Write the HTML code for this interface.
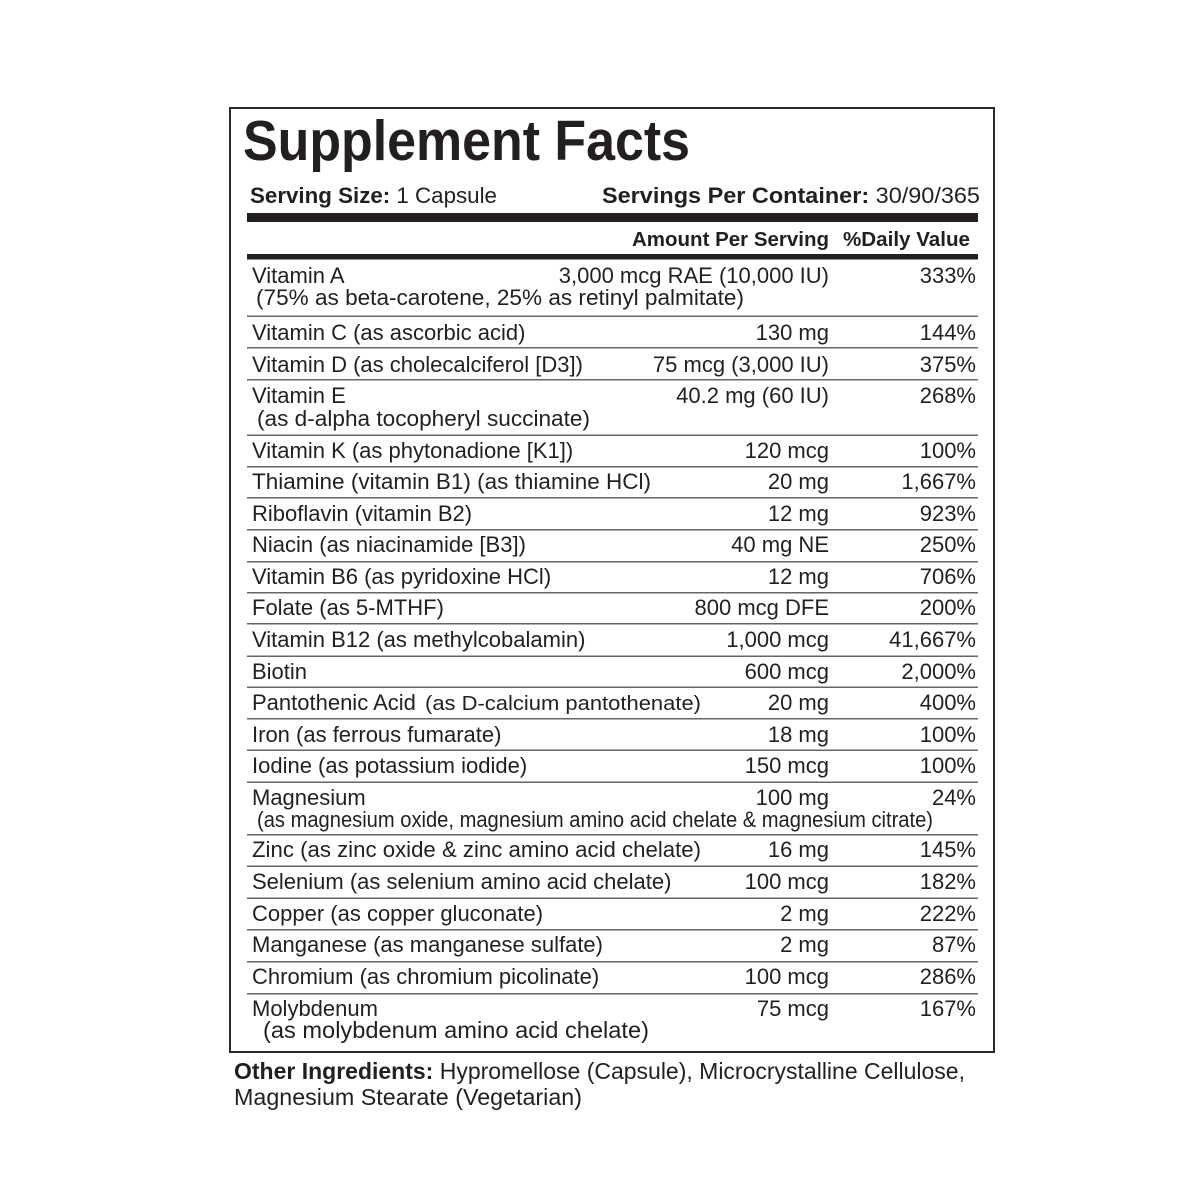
<!DOCTYPE html>
<html>
<head>
<meta charset="utf-8">
<style>
html,body{margin:0;padding:0;background:#fff;}
svg{display:block;}
text{font-family:"Liberation Sans",Arial,sans-serif;fill:#231f20;}
</style>
</head>
<body>
<svg width="1200" height="1200" viewBox="0 0 1200 1200" xmlns="http://www.w3.org/2000/svg">
<rect x="0" y="0" width="1200" height="1200" fill="#fff"/>
<!-- box -->
<rect x="230" y="108" width="764" height="944" fill="none" stroke="#2b2b2b" stroke-width="2"/>

<!-- title -->
<text x="243" y="160" font-size="57" font-weight="bold" textLength="447" lengthAdjust="spacingAndGlyphs">Supplement Facts</text>

<!-- serving -->
<text x="250" y="203" font-size="22.5" textLength="247" lengthAdjust="spacingAndGlyphs"><tspan font-weight="bold">Serving Size:</tspan> 1 Capsule</text>
<text x="602" y="203" font-size="22.5" textLength="378" lengthAdjust="spacingAndGlyphs"><tspan font-weight="bold">Servings Per Container:</tspan> 30/90/365</text>

<!-- thick bars -->
<rect x="247" y="213" width="731" height="9" fill="#231f20"/>
<rect x="247" y="254" width="731" height="5.5" fill="#231f20"/>

<text x="632" y="246" font-size="20" font-weight="bold" textLength="197" lengthAdjust="spacingAndGlyphs">Amount Per Serving</text>
<text x="843" y="246" font-size="20" font-weight="bold" textLength="127" lengthAdjust="spacingAndGlyphs">%Daily Value</text>

<!-- separators -->
<g fill="#666">
<rect x="247" y="315.5" width="731" height="1.5"/>
<rect x="247" y="347" width="731" height="1.5"/>
<rect x="247" y="379" width="731" height="1.5"/>
<rect x="247" y="434.5" width="731" height="1.5"/>
<rect x="247" y="466" width="731" height="1.5"/>
<rect x="247" y="497" width="731" height="1.5"/>
<rect x="247" y="529" width="731" height="1.5"/>
<rect x="247" y="561" width="731" height="1.5"/>
<rect x="247" y="592" width="731" height="1.5"/>
<rect x="247" y="623" width="731" height="1.5"/>
<rect x="247" y="655.5" width="731" height="1.5"/>
<rect x="247" y="686.5" width="731" height="1.5"/>
<rect x="247" y="718" width="731" height="1.5"/>
<rect x="247" y="749.5" width="731" height="1.5"/>
<rect x="247" y="781.5" width="731" height="1.5"/>
<rect x="247" y="834" width="731" height="1.5"/>
<rect x="247" y="865.5" width="731" height="1.5"/>
<rect x="247" y="897.5" width="731" height="1.5"/>
<rect x="247" y="929" width="731" height="1.5"/>
<rect x="247" y="961" width="731" height="1.5"/>
<rect x="247" y="993" width="731" height="1.5"/>
</g>

<g font-size="22">
<!-- labels -->
<text x="252" y="283">Vitamin A</text>
<text x="256" y="305" textLength="488" lengthAdjust="spacingAndGlyphs">(75% as beta-carotene, 25% as retinyl palmitate)</text>
<text x="252" y="340">Vitamin C (as ascorbic acid)</text>
<text x="252" y="372">Vitamin D (as cholecalciferol [D3])</text>
<text x="252" y="403">Vitamin E</text>
<text x="257" y="426" textLength="333" lengthAdjust="spacingAndGlyphs">(as d-alpha tocopheryl succinate)</text>
<text x="252" y="458">Vitamin K (as phytonadione [K1])</text>
<text x="252" y="489" textLength="399" lengthAdjust="spacingAndGlyphs">Thiamine (vitamin B1) (as thiamine HCl)</text>
<text x="252" y="521">Riboflavin (vitamin B2)</text>
<text x="252" y="552">Niacin (as niacinamide [B3])</text>
<text x="252" y="584">Vitamin B6 (as pyridoxine HCl)</text>
<text x="252" y="615">Folate (as 5-MTHF)</text>
<text x="252" y="647">Vitamin B12 (as methylcobalamin)</text>
<text x="252" y="679">Biotin</text>
<text x="252" y="710">Pantothenic Acid</text>
<text x="425" y="710" font-size="20" textLength="276" lengthAdjust="spacingAndGlyphs">(as D-calcium pantothenate)</text>
<text x="252" y="742">Iron (as ferrous fumarate)</text>
<text x="252" y="773">Iodine (as potassium iodide)</text>
<text x="252" y="805">Magnesium</text>
<text x="257" y="827" textLength="676" lengthAdjust="spacingAndGlyphs">(as magnesium oxide, magnesium amino acid chelate &amp; magnesium citrate)</text>
<text x="252" y="857" textLength="449" lengthAdjust="spacingAndGlyphs">Zinc (as zinc oxide &amp; zinc amino acid chelate)</text>
<text x="252" y="889">Selenium (as selenium amino acid chelate)</text>
<text x="252" y="921">Copper (as copper gluconate)</text>
<text x="252" y="952">Manganese (as manganese sulfate)</text>
<text x="252" y="984">Chromium (as chromium picolinate)</text>
<text x="252" y="1016">Molybdenum</text>
<text x="263" y="1038" font-size="23" textLength="386" lengthAdjust="spacingAndGlyphs">(as molybdenum amino acid chelate)</text>
</g>

<g font-size="22" text-anchor="end">
<!-- amounts -->
<text x="829" y="283">3,000 mcg RAE (10,000 IU)</text>
<text x="829" y="340">130 mg</text>
<text x="829" y="372">75 mcg (3,000 IU)</text>
<text x="829" y="403">40.2 mg (60 IU)</text>
<text x="829" y="458">120 mcg</text>
<text x="829" y="489">20 mg</text>
<text x="829" y="521">12 mg</text>
<text x="829" y="552">40 mg NE</text>
<text x="829" y="584">12 mg</text>
<text x="829" y="615">800 mcg DFE</text>
<text x="829" y="647">1,000 mcg</text>
<text x="829" y="679">600 mcg</text>
<text x="829" y="710">20 mg</text>
<text x="829" y="742">18 mg</text>
<text x="829" y="773">150 mcg</text>
<text x="829" y="805">100 mg</text>
<text x="829" y="857">16 mg</text>
<text x="829" y="889">100 mcg</text>
<text x="829" y="921">2 mg</text>
<text x="829" y="952">2 mg</text>
<text x="829" y="984">100 mcg</text>
<text x="829" y="1016">75 mcg</text>
<!-- DV -->
<text x="976" y="283">333%</text>
<text x="976" y="340">144%</text>
<text x="976" y="372">375%</text>
<text x="976" y="403">268%</text>
<text x="976" y="458">100%</text>
<text x="976" y="489">1,667%</text>
<text x="976" y="521">923%</text>
<text x="976" y="552">250%</text>
<text x="976" y="584">706%</text>
<text x="976" y="615">200%</text>
<text x="976" y="647">41,667%</text>
<text x="976" y="679">2,000%</text>
<text x="976" y="710">400%</text>
<text x="976" y="742">100%</text>
<text x="976" y="773">100%</text>
<text x="976" y="805">24%</text>
<text x="976" y="857">145%</text>
<text x="976" y="889">182%</text>
<text x="976" y="921">222%</text>
<text x="976" y="952">87%</text>
<text x="976" y="984">286%</text>
<text x="976" y="1016">167%</text>
</g>

<!-- other ingredients -->
<text x="234" y="1079" font-size="23" textLength="731" lengthAdjust="spacingAndGlyphs"><tspan font-weight="bold">Other Ingredients:</tspan> Hypromellose (Capsule), Microcrystalline Cellulose,</text>
<text x="234" y="1105" font-size="23" textLength="348" lengthAdjust="spacingAndGlyphs">Magnesium Stearate (Vegetarian)</text>
</svg>
</body>
</html>
